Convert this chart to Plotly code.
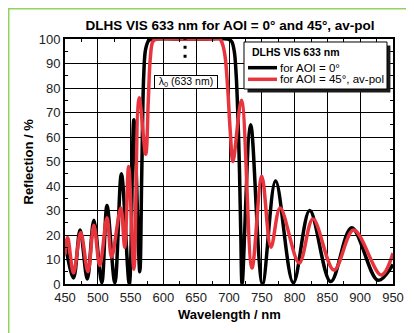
import plotly.graph_objects as go

# AOI = 0 deg
wl_0 = [450, 463, 473, 484, 494, 506, 514, 526, 536, 548, 555, 564, 567, 570, 573, 578, 585,
        620, 660, 698, 704, 708, 711, 714, 716, 718, 720, 733, 751, 771, 798, 823, 855, 887, 927, 950]
refl_0 = [17, 2.5, 22, 2, 26, 0.5, 32, 0.5, 45, 0, 67, 5, 45, 85, 96, 99.5, 100,
          100, 100, 100, 99, 95, 85, 65, 46, 20, 0, 65, 0, 42, 0.5, 30, 1, 23, 1.5, 8]

# AOI = 45 deg, average polarisation
wl_45 = [450, 454, 463, 474, 485, 494, 503, 514, 521, 535, 541, 547, 555, 563, 573, 577, 580, 584, 590,
         630, 670, 686, 690, 694, 698, 702, 706, 719, 735, 750, 764, 778, 807, 828, 860, 890, 932, 950]
refl_45 = [12, 19, 4.5, 21, 5, 24, 7.5, 27, 11, 31, 15, 48, 6, 76, 53, 75, 92, 99, 100,
           100, 100, 100, 98, 93, 80, 62, 50, 75, 6.5, 44, 15, 31, 8.6, 26.5, 5.7, 22, 3.7, 12.6]

names = ['for AOI = 0°', 'for AOI = 45°, av-pol']
x_ticks = list(range(450, 951, 50))
y_ticks = list(range(0, 101, 10))
lambda0 = 633

RED = '#e8353d'
FONT = 'Liberation Sans, Arial, sans-serif'

fig = go.Figure()
fig.add_trace(go.Scatter(x=wl_0, y=refl_0, mode='lines', name=names[0], showlegend=False,
                         line=dict(color='black', width=3.5, shape='spline', smoothing=1)))
fig.add_trace(go.Scatter(x=wl_45, y=refl_45, mode='lines', name=names[1], showlegend=False,
                         line=dict(color=RED, width=3.5, shape='spline', smoothing=1)))

axis_common = dict(showline=True, linecolor='black', linewidth=2, mirror='ticks',
                   showgrid=True, gridcolor='black', gridwidth=1, zeroline=False,
                   ticks='inside', ticklen=5, tickwidth=1, tickcolor='black', automargin=False,
                   tickfont=dict(family=FONT, size=13, color='#222'))

fig.update_xaxes(range=[450, 950], tickvals=x_ticks,
                 minor=dict(dtick=25, tick0=450, ticks='inside', ticklen=3, tickcolor='black', showgrid=False),
                 **axis_common)
fig.update_yaxes(range=[0, 100], tickvals=y_ticks,
                 minor=dict(dtick=5, tick0=0, ticks='inside', ticklen=3, tickcolor='black', showgrid=False),
                 **axis_common)

# axis titles
fig.add_annotation(x=0.5, y=-0.1265, xref='paper', yref='paper', text='<b>Wavelength / nm</b>',
                   showarrow=False, yanchor='middle', font=dict(family=FONT, size=13, color='black'))
fig.add_annotation(x=-0.1128, y=0.5, xref='paper', yref='paper', text='<b>Reflection / %</b>',
                   showarrow=False, textangle=-90, xanchor='center', font=dict(family=FONT, size=13, color='black'))

# lambda_0 marker
fig.add_shape(type='line', x0=lambda0, x1=lambda0, y0=92.3, y1=100.6, xref='x', yref='y',
              line=dict(color='black', width=3, dash='3px,6px'))
fig.add_annotation(x=634.5, y=82.6, xref='x', yref='y', text='λ<sub>0</sub> (633 nm)', showarrow=False,
                   font=dict(family=FONT, size=10.5, color='black'), bgcolor='white',
                   bordercolor='black', borderwidth=1, borderpad=0, width=62, height=12)

# legend (box with shadow, title, line samples)
fig.add_shape(type='rect', xref='paper', yref='paper', x0=0.5564, x1=0.9921, y0=0.7816, y1=0.9735,
              fillcolor='#1a1a1a', line=dict(width=0), layer='above')
fig.add_shape(type='rect', xref='paper', yref='paper', x0=0.5457, x1=0.9817, y0=0.7959, y1=0.9878,
              fillcolor='white', line=dict(color='black', width=1), layer='above')
fig.add_annotation(x=0.5630, y=0.9469, xref='paper', yref='paper', text='<b>DLHS VIS 633 nm</b>',
                   showarrow=False, xanchor='left', yanchor='middle', font=dict(family=FONT, size=10.5, color='black'))
for name, colour, yp in zip(names, ['black', RED], [0.8829, 0.8355]):
    fig.add_shape(type='line', xref='paper', yref='paper', x0=0.5579, x1=0.6463, y0=yp, y1=yp,
                  line=dict(color=colour, width=3.5), layer='above')
    fig.add_annotation(x=0.6500, y=yp, xref='paper', yref='paper', text=name, showarrow=False,
                       xanchor='left', yanchor='middle', font=dict(family=FONT, size=11.5, color='black'))

# green frame around the picture
fig.add_shape(type='rect', xref='paper', yref='paper', x0=-0.1723, x1=1.0503, y0=-0.3, y1=1.1245,
              line=dict(color='#93d162', width=2))

# the page body adds an 8px margin, so the figure is 8px smaller and shifted margins
fig.update_layout(
    width=406, height=325,
    margin=dict(l=57, r=21, t=31, b=49),
    paper_bgcolor='white', plot_bgcolor='white',
    title=dict(text='<b>DLHS VIS 633 nm for AOI = 0° and 45°, av-pol</b>', x=0.547, xanchor='center',
               y=0.948, yanchor='middle', font=dict(family=FONT, size=13.5, color='black')),
    showlegend=False,
)

fig.write_html("out.html")
